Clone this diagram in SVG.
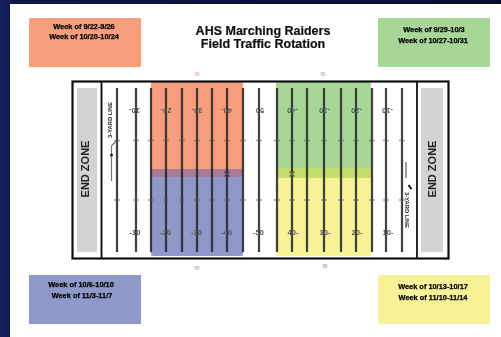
<svg xmlns="http://www.w3.org/2000/svg" width="501" height="337" viewBox="0 0 501 337">
<defs>
<linearGradient id="bg" x1="0" y1="0" x2="1" y2="0"><stop offset="0" stop-color="#17205f"/><stop offset="0.03" stop-color="#0e1548"/><stop offset="1" stop-color="#0a0f30"/></linearGradient>
<filter id="soft" x="-5%" y="-5%" width="110%" height="110%"><feGaussianBlur stdDeviation="0.65"/></filter>
</defs>
<style>
text{font-family:"Liberation Sans",Arial,sans-serif;font-weight:700;fill:#000}
.wk{font-size:7.4px;text-anchor:middle;stroke:#000;stroke-width:.25}
.ttl{font-size:12.5px;text-anchor:middle;fill:#111;stroke:#111;stroke-width:.2}
.ez{font-size:11px;text-anchor:middle;fill:#222}
.num{font-size:7.5px;text-anchor:middle;fill:#555}
.yl{stroke:#222;stroke-opacity:.85;stroke-width:2.200;fill:none}
.tick{stroke:#555;stroke-opacity:.55;stroke-width:1.300;fill:none}
.sm{font-size:4.500px;text-anchor:middle}
.yard{font-size:5.800px;text-anchor:middle;fill:#222}
</style>
<rect width="501" height="337" fill="url(#bg)"/>
<rect x="10" y="4" width="491" height="333" fill="#fff"/>
<g filter="url(#soft)">
<g id="box-orange"><rect x="29" y="18" width="112" height="49" fill="#f79f7c"/><text class="wk" x="84" y="28.500">Week of 9/22-9/26</text><text class="wk" x="84" y="38.500">Week of 10/20-10/24</text></g>
<g id="box-green"><rect x="378" y="18" width="112" height="49" fill="#a8d598"/><text class="wk" x="434" y="31.500">Week of 9/29-10/3</text><text class="wk" x="433" y="43">Week of 10/27-10/31</text></g>
<g id="box-blue"><rect x="29" y="275" width="112" height="49" fill="#9097c9"/><text class="wk" x="81" y="286.500">Week of 10/6-10/10</text><text class="wk" x="82" y="297.500">Week of 11/3-11/7</text></g>
<g id="box-yellow"><rect x="378" y="275" width="112" height="49" fill="#f7f197"/><text class="wk" x="433" y="288.500">Week of 10/13-10/17</text><text class="wk" x="433" y="299.500">Week of 11/10-11/14</text></g>
<g id="title"><text class="ttl" x="263" y="34.500">AHS Marching Raiders</text><text class="ttl" x="263" y="48">Field Traffic Rotation</text></g>
<g id="zones">
<rect x="151" y="82" width="92" height="87" fill="#f79f7c"/>
<rect x="151" y="169" width="92" height="8" fill="#a87a9c"/>
<rect x="151" y="177" width="92" height="79" rx="2" fill="#9097c9"/>
<rect x="276" y="82" width="95" height="86" fill="#a8d598"/>
<rect x="276" y="168" width="95" height="10" fill="#c6dc6c"/>
<rect x="276" y="178" width="95" height="78" fill="#f7f197"/>
</g>
<g id="field">
<rect x="72.500" y="81.500" width="376" height="177" fill="none" stroke="#111" stroke-width="2.200"/>
<line x1="101.500" y1="81" x2="101.500" y2="259" stroke="#111" stroke-width="1.800"/>
<line x1="417" y1="81" x2="417" y2="259" stroke="#111" stroke-width="1.800"/>
<rect x="77" y="88" width="20" height="164" fill="#d3d3d3"/>
<rect x="421" y="88" width="22" height="164" fill="#d3d3d3"/>
<text class="ez" transform="translate(89 169) rotate(-90)">END ZONE</text>
<text class="ez" transform="translate(436 169) rotate(-90)">END ZONE</text>
</g>
<g id="yard-lines">
<path class="yl" d="M117 88V252M136 88V252M151 88V252M166 88V252M182 88V252M197 88V252M212 88V252M227 88V252M243 88V252M259 88V252M277 88V252M292 88V252M307 88V252M324 88V252M341 88V252M356 88V252M372 88V252M386 88V252M402 88V252"/>
<path class="tick" d="M114 140.500h6M133 140.500h6M148 140.500h6M163 140.500h6M179 140.500h6M194 140.500h6M209 140.500h6M224 140.500h6M240 140.500h6M256 140.500h6M274 140.500h6M289 140.500h6M304 140.500h6M321 140.500h6M338 140.500h6M353 140.500h6M369 140.500h6M383 140.500h6M399 140.500h6M114 200h6M133 200h6M148 200h6M163 200h6M179 200h6M194 200h6M209 200h6M224 200h6M240 200h6M256 200h6M274 200h6M289 200h6M304 200h6M321 200h6M338 200h6M353 200h6M369 200h6M383 200h6M399 200h6"/>
</g>
<g id="numbers">
<text class="num" transform="translate(134.500 107.500) rotate(180)">10-</text><text class="num" transform="translate(166 107.500) rotate(180)">20-</text><text class="num" transform="translate(197 107.500) rotate(180)">30-</text><text class="num" transform="translate(226.500 107.500) rotate(180)">40-</text><text class="num" transform="translate(260 107.500) rotate(180)">50</text><text class="num" transform="translate(292.500 107.500) rotate(180)">-40</text><text class="num" transform="translate(324.500 107.500) rotate(180)">-30</text><text class="num" transform="translate(356.500 107.500) rotate(180)">-20</text><text class="num" transform="translate(387.500 107.500) rotate(180)">-10</text>
<text class="num" x="135" y="234.500">-10</text><text class="num" x="165.500" y="234.500">-20</text><text class="num" x="196.500" y="234.500">-30</text><text class="num" x="226.500" y="234.500">-40</text><text class="num" x="258.500" y="234.500">-50</text><text class="num" x="293" y="234.500">40-</text><text class="num" x="325" y="234.500">30-</text><text class="num" x="357" y="234.500">20-</text><text class="num" x="388" y="234.500">10-</text>
</g>
<g id="marks">
<text class="yard" transform="translate(112 120) rotate(-90)">3-YARD LINE</text>
<text class="yard" transform="translate(405 210) rotate(90)">3-YARD LINE</text>
<path d="M111.500 181V146L116 141" fill="none" stroke="#777" stroke-width="1.200"/><circle cx="111.500" cy="155" r="1.500" fill="#222"/>
<path d="M406 162V178" stroke="#666" stroke-width="1.300"/><path d="M408.500 185L411.500 189" stroke="#111" stroke-width="2"/>
<path d="M224.500 171.500L229.500 176.500M229.500 171.500L224.500 176.500" stroke="#4a3a60" stroke-width="1.200"/>
<path d="M289.500 171.500L294.500 176.500M294.500 171.500L289.500 176.500" stroke="#5a7a3a" stroke-width="1.300"/>
<text class="sm" x="197" y="75.500" style="fill:#e8a890">55</text><text class="sm" x="323" y="76" style="fill:#a8b8a8">55</text><text class="sm" x="197" y="269.500" style="fill:#a8aac0">55</text><text class="sm" x="325" y="268" style="fill:#a0a0a0">55</text>
</g>
</g>
</svg>
